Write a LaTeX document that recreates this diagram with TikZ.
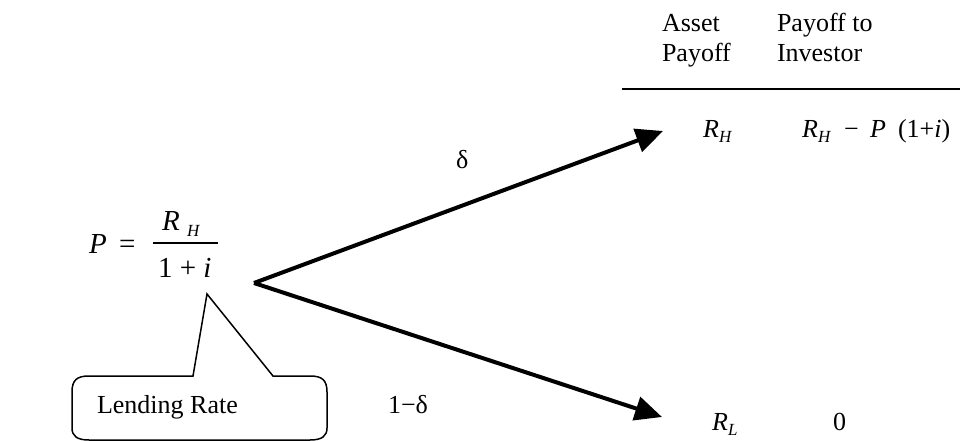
\documentclass[tikz,border=0pt]{standalone}
\usepackage{fontspec}
\setmainfont{Liberation Serif}
\usetikzlibrary{arrows.meta}
\tikzset{
  txt/.style={anchor=base west, inner sep=0pt, outer sep=0pt, font=\fontsize{26}{30}\selectfont},
  itx/.style={anchor=base west, inner sep=0pt, outer sep=0pt, font=\fontsize{26}{30}\selectfont\itshape},
  fml/.style={anchor=base west, inner sep=0pt, outer sep=0pt, font=\fontsize{29}{33}\selectfont\itshape},
  fmlup/.style={anchor=base west, inner sep=0pt, outer sep=0pt, font=\fontsize{29}{33}\selectfont},
  subs/.style={anchor=base west, inner sep=0pt, outer sep=0pt, font=\fontsize{17}{20}\selectfont\itshape},
  branch/.style={line width=4pt, -{Triangle[length=27pt,width=24pt]}},
  rule/.style={line width=2.5pt},
  callout/.style={line width=1.5pt, line join=miter}
}
\begin{document}
\begin{tikzpicture}[x=1pt,y=-1pt]
\useasboundingbox (0,0) rectangle (967,441);
% header
\node[txt] (asset1) at (662,32) {Asset};
\node[txt] (asset2) at (662,62) {Payoff};
\node[txt] (inv1) at (777,32) {Payoff to};
\node[txt] (inv2) at (777,62) {Investor};
\draw[rule] (622,89) coordinate (r1) -- (960,89) coordinate (r2);
% formula
\node[fml] (P) at (89,253) {P};
\node[fmlup] (eq) at (119,253) {=};
\draw[line width=1.5pt] (153,243) coordinate (b1) -- (218,243) coordinate (b2);
\node[fml] (Rn) at (162,230) {R};
\node[subs] (Hn) at (187,236) {H};
\node[fmlup] (den) at (158,277) {1 + \textit{i}};
% branches
\coordinate (v) at (254,283);
\coordinate (tH) at (663,131);
\coordinate (tL) at (662,417);
\draw[branch] (v) -- (tH);
\draw[branch] (v) -- (tL);
\node[txt] (d1) at (456,168) {δ};
\node[txt] (d2) at (388,413) {1−δ};
% outcomes
\node[itx] (RH) at (703,138) {R};
\node[subs] (RHs) at (719,143) {H};
\node[itx] (RH2) at (802,138) {R};
\node[subs] (RH2s) at (818,143) {H};
\node[txt] (minus) at (844,138) {−};
\node[itx] (PP) at (870,138) {P};
\node[txt] (paren) at (898,138) {(1+\textit{i})};
\node[itx] (RL) at (712,430) {R};
\node[subs] (RLs) at (728,435) {L};
\node[txt] (zero) at (833,430) {0};
% callout
\coordinate (apex) at (207,294);
\draw[callout] (193,376) -- (apex) -- (273,376) -- (310,376)
  .. controls (322,376) and (327,380) .. (327,392) -- (327,428)
  .. controls (327,436) and (322,440) .. (310,440) -- (89,440)
  .. controls (77,440) and (72,436) .. (72,428) -- (72,392)
  .. controls (72,380) and (77,376) .. (89,376) -- cycle;
\node[txt] (lend) at (97,413) {Lending Rate};
\end{tikzpicture}
\end{document}
